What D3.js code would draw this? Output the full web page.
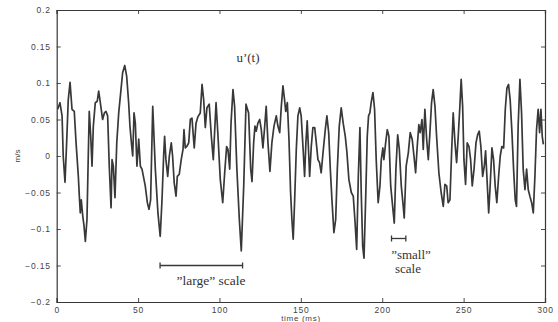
<!DOCTYPE html>
<html><head><meta charset="utf-8">
<script src="https://cdn.jsdelivr.net/npm/d3@7"></script>
<style>body{margin:0;background:#fff}svg{display:block}</style>
</head><body>
<script>
const timeMs = [0.6,2,3.3,4,5.1,6.1,7.1,8.2,9.4,10.8,11.9,13.3,13.9,14.5,15.1,16,16.8,17.6,18.6,19.4,20,20.9,21.7,22.5,23.7,24.9,25.8,26.8,28.2,29.3,30.3,31.3,32.3,33.4,34,34.8,35.8,36.9,38.1,39.5,40.5,41.8,43,44.2,45,46.1,46.7,47.5,48.3,49.3,50.4,51.4,52.4,54.4,55.7,56.7,57.7,59,60.6,62.2,63.6,64.7,65.7,66.3,67.1,68.2,69.2,70.4,71.2,72.2,73.3,74.1,75.3,76.5,77.6,78.2,79,79.9,81.1,82.1,83.1,84.5,85.6,86.8,88.2,89.3,90.3,91.3,92.3,93.7,95,96.2,97.9,99.1,100.5,102,103.2,104.4,105.2,106.3,107.1,108.3,109.3,110.7,112.2,113.4,114.9,116.3,117.9,119.2,120,121,121.8,122.6,123.6,124.7,125.7,126.7,127.8,128.7,129.8,131,132.2,133.5,134.9,135.9,137,138,139,140,140.7,141.7,142.7,143.7,144.5,145.3,146.2,147.2,148.2,149.3,150.2,151.3,152.3,153.1,153.9,154.8,155.4,156.4,157.4,158.5,159.5,160.5,161.5,162.5,163.6,165,166,167.1,168.1,169.1,170.3,171.4,172.4,173.6,174.8,176,177.3,178.3,179.5,181,182.2,183.2,184.3,185.3,186.3,187.1,188,188.8,189.8,190.8,191.6,192.4,193.2,194.3,195.3,196.3,197.5,198.6,199.4,200.4,201,202.1,203.1,204.1,205.2,206.4,207.4,208.4,209.5,210.5,211.7,212.9,213.5,214.7,216,217.2,218.4,219.5,220.5,221.5,222.5,223.3,224.4,225.2,226.2,227.3,228.3,229.3,230.3,231.3,232.4,233.4,234.8,236.2,237.5,238.5,239.6,240.5,241.6,242.6,243.6,244.7,245.7,246.7,247.7,248.5,249.4,250.2,251.2,252.2,253.3,254.3,255.3,256.4,257.6,258.6,259.6,260.6,261.7,262.7,263.5,264.3,265.4,266.3,267.4,268.4,269.4,270.4,271.5,272.5,273.5,274.6,275.6,276.6,277.6,278.6,279.7,280.7,281.7,282.5,283.5,284.6,285.6,286.6,287.7,288.7,289.7,290.7,291.8,292.8,293.8,294.8,295.8,296.7,297.5,298.3,299];
const uPrime = [0.064,0.073,0.055,0,-0.036,0.018,0.077,0.101,0.064,0.061,0.018,-0.028,-0.055,-0.078,-0.06,-0.082,-0.096,-0.117,-0.087,0,0.061,0.027,-0.014,0.041,0.073,0.075,0.089,0.073,0.05,0.059,0.061,0.055,-0.014,-0.071,-0.005,-0.014,-0.057,0.018,0.059,0.091,0.114,0.124,0.109,0.073,0.041,0.013,0,0.059,0.045,-0.014,0.023,-0.014,-0.018,-0.041,-0.064,-0.073,-0.06,0.068,-0.018,-0.078,-0.11,-0.06,0,0.027,-0.005,-0.028,0,0.018,0,-0.037,-0.055,-0.028,-0.025,-0.005,0.009,0.036,0.011,0.013,0.018,0.05,0.052,0.011,0.045,0.054,0.059,0.098,0.077,0.039,0.066,0.071,0.027,-0.005,0.073,0.027,-0.032,-0.064,-0.023,0.013,0.009,-0.018,0.045,0.091,0.068,-0.018,-0.087,-0.13,-0.041,0.071,0.059,-0.018,-0.035,0.018,0.041,0.034,0.045,0.05,0.036,0.011,0.041,0.068,0.018,-0.021,0.018,0.041,0.055,0.041,0.032,0.068,0.096,0.077,0.061,0.073,0.023,-0.05,-0.087,-0.114,-0.06,0.009,0.055,0.066,0.055,0.013,-0.028,0.018,0.048,0.004,-0.028,0.013,0.039,0.039,0.018,-0.005,-0.009,-0.023,0.004,0.036,0.055,0.032,-0.018,-0.06,-0.105,-0.087,-0.018,0.041,0.066,0.045,0.027,0.005,-0.032,-0.05,-0.055,-0.087,-0.128,-0.028,0.039,-0.05,-0.124,-0.14,-0.06,0.027,0.055,0.059,0.073,0.087,0.064,-0.005,-0.064,-0.041,-0.005,0.011,-0.005,0.018,0.036,0.027,-0.041,-0.069,-0.092,-0.018,0.029,0.009,-0.041,-0.069,-0.085,-0.014,0.004,0.032,0.023,0,-0.023,0.013,0.043,0.032,0.05,0.009,0.064,0.023,-0.005,0.032,0.073,0.091,0.068,0.027,-0.023,-0.05,-0.069,-0.039,-0.041,-0.064,-0.06,0.004,0.059,0.018,-0.009,0.027,0.068,0.105,0.068,-0.005,-0.039,0.018,0.013,-0.005,-0.041,-0.018,0.018,0.029,0.034,0.013,-0.028,-0.014,0.007,-0.028,-0.078,-0.041,0.011,-0.005,-0.041,-0.064,-0.028,0,0.013,0.011,0.064,0.093,0.098,0.077,0.032,-0.018,-0.06,-0.069,0.041,0.105,0.059,-0.018,-0.046,-0.018,-0.046,-0.055,-0.064,-0.078,-0.028,0.036,0.064,0.032,0.064,0.027,0.016];
const xTicks = [0,50,100,150,200,250,300];
const yTicks = [-0.2,-0.15,-0.1,-0.05,0,0.05,0.1,0.15,0.2];
const yTickLabels = ["\u22120.2","\u22120.15","\u22120.1","\u22120.05","0","0.05","0.1","0.15","0.2"];
const largeScale = [63.5, 114.2, -0.15];
const smallScale = [205.7, 214.5, -0.113];

const W = 558, H = 322;
const m = {l:56.7, r:13, t:10, b:20};
const svg = d3.select("body").append("svg").attr("width", W).attr("height", H);
const x = d3.scaleLinear().domain([0,300]).range([m.l, W - m.r]);
const y = d3.scaleLinear().domain([-0.2,0.2]).range([H - m.b, m.t]);
const ink = "#383838";
const tickFont = "'Liberation Sans', Arial, sans-serif";
const serif = "'Liberation Serif', 'Times New Roman', serif";

function styleAxis(g){
  g.select(".domain").attr("stroke", ink).attr("stroke-width", 1.2);
  g.selectAll(".tick line").attr("stroke", ink).attr("stroke-width", 0.9);
  g.selectAll("text").attr("fill", "#444").attr("font-family", tickFont)
    .attr("font-size", 8.5).attr("letter-spacing", 0.8);
}
// bottom
svg.append("g").attr("transform", `translate(0,${y(-0.2)})`)
  .call(d3.axisBottom(x).tickValues(xTicks).tickSize(-4).tickPadding(5).tickFormat(d3.format("d")))
  .call(styleAxis);
// top
svg.append("g").attr("transform", `translate(0,${y(0.2)})`)
  .call(d3.axisTop(x).tickValues(xTicks).tickSize(-4).tickFormat(""))
  .call(styleAxis);
// left
svg.append("g").attr("transform", `translate(${x(0)},0)`)
  .call(d3.axisLeft(y).tickValues(yTicks).tickSize(-4).tickPadding(6).tickFormat((d,i)=>yTickLabels[i]))
  .call(styleAxis);
// right
svg.append("g").attr("transform", `translate(${x(300)},0)`)
  .call(d3.axisRight(y).tickValues(yTicks).tickSize(-4).tickFormat(""))
  .call(styleAxis);

// signal
const data = timeMs.map((t,i)=>[t, uPrime[i]]);
svg.append("path").datum(data)
  .attr("fill","none").attr("stroke", ink).attr("stroke-width", 1.7)
  .attr("stroke-linejoin","round")
  .attr("d", d3.line().x(d=>x(d[0])).y(d=>y(d[1])));

// axis labels
svg.append("text").attr("x", 301).attr("y", 321).attr("text-anchor","middle")
  .attr("font-family", tickFont).attr("font-size", 8).attr("letter-spacing", 0.7).attr("fill","#444")
  .text("time (ms)");
svg.append("text").attr("transform", `translate(20,${y(0)}) rotate(-90)`).attr("text-anchor","middle")
  .attr("font-family", tickFont).attr("font-size", 8).attr("fill","#444")
  .text("m/s");

// annotations
svg.append("text").attr("x", 248).attr("y", 62).attr("text-anchor","middle")
  .attr("font-family", serif).attr("font-size", 13).attr("fill","#333").text("u\u2019(t)");

function scaleBar(s){
  const g = svg.append("g").attr("stroke", ink).attr("stroke-width", 1.3);
  g.append("line").attr("x1", x(s[0])).attr("x2", x(s[1])).attr("y1", y(s[2])).attr("y2", y(s[2]));
  g.append("line").attr("x1", x(s[0])).attr("x2", x(s[0])).attr("y1", y(s[2])-3).attr("y2", y(s[2])+3);
  g.append("line").attr("x1", x(s[1])).attr("x2", x(s[1])).attr("y1", y(s[2])-3).attr("y2", y(s[2])+3);
}
scaleBar(largeScale);
scaleBar(smallScale);
svg.append("text").attr("x", 211).attr("y", 285).attr("text-anchor","middle")
  .attr("font-family", serif).attr("font-size", 13.5).attr("fill","#333").text("\u201Dlarge\u201D scale");
svg.append("text").attr("x", 411).attr("y", 259).attr("text-anchor","middle")
  .attr("font-family", serif).attr("font-size", 13).attr("fill","#333").text("\u201Dsmall\u201D");
svg.append("text").attr("x", 408).attr("y", 273).attr("text-anchor","middle")
  .attr("font-family", serif).attr("font-size", 13).attr("fill","#333").text("scale");
</script>
</body></html>
